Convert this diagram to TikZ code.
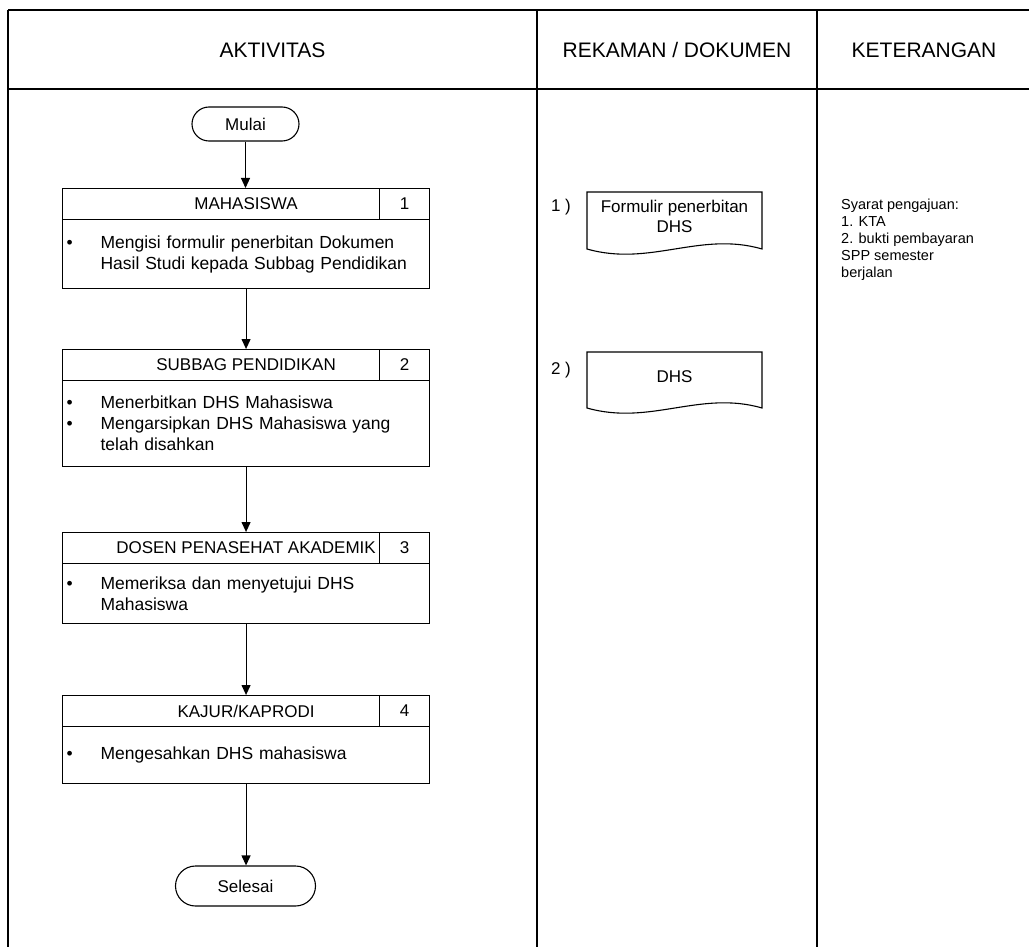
\documentclass[tikz,border=0pt]{standalone}
\usepackage{fontspec}
\setmainfont{Liberation Sans}
\usetikzlibrary{arrows.meta,shapes.misc}
\begin{document}
\begin{tikzpicture}[x=1pt,y=-1pt,
  tbl/.style={line width=1.4pt},
  term/.style={draw, line width=1.1pt, rounded rectangle, minimum width=107pt, minimum height=34pt, inner sep=0pt, font=\fontsize{17}{20}\selectfont},
  hdr/.style={draw, line width=1.1pt, minimum width=367pt, minimum height=31pt, inner sep=0pt, anchor=north west, font=\fontsize{17}{20}\selectfont},
  num/.style={draw, fill=white, line width=1.1pt, minimum width=50pt, minimum height=31pt, inner sep=0pt, anchor=north west, font=\fontsize{17}{20}\selectfont},
  body/.style={draw, line width=1.1pt, text width=359pt, inner xsep=4pt, inner ysep=0pt, anchor=north west, align=left, font=\fontsize{17.5}{21}\selectfont},
  arr/.style={line width=1.1pt, -{Triangle[width=9pt,length=10pt]}},
  colhead/.style={font=\fontsize{21}{25}\selectfont},
  doc/.style={line width=1.1pt},
  doctext/.style={font=\fontsize{17}{20}\selectfont, align=center, inner sep=0pt},
  note/.style={font=\fontsize{14.5}{17}\selectfont, align=left, anchor=north west, inner sep=0pt},
]
\newcommand{\bul}[1]{\makebox[34pt][l]{\textbullet}#1}
\newcommand{\cont}[1]{\hspace*{34pt}#1}
\useasboundingbox (0,0) rectangle (1029,947);
% table
\draw[tbl] (8,10) -- (1029,10);
\draw[tbl] (8,89) -- (1029,89);
\draw[tbl] (8,10) -- (8,947);
\draw[tbl] (537,10) -- (537,947);
\draw[tbl] (817,10) -- (817,947);
\node[colhead] (c1) at (272.5,50) {AKTIVITAS};
\node[colhead] (c2) at (677,50) {REKAMAN / DOKUMEN};
\node[colhead] (c3) at (924,50) {KETERANGAN};
% flow
\node[term] (mulai) at (245.5,124) {Mulai};
\node[hdr] (h1) at (62,188) {MAHASISWA};
\node[num] (n1) at (379,188) {1};
\node[body, minimum height=69pt] (b1) at (62,219) {\bul{Mengisi formulir penerbitan Dokumen}\\\cont{Hasil Studi kepada Subbag Pendidikan}};
\node[hdr] (h2) at (62,349) {SUBBAG PENDIDIKAN};
\node[num] (n2) at (379,349) {2};
\node[body, minimum height=86pt] (b2) at (62,380) {\bul{Menerbitkan DHS Mahasiswa}\\\bul{Mengarsipkan DHS Mahasiswa yang}\\\cont{telah disahkan}};
\node[hdr] (h3) at (62,532) {DOSEN PENASEHAT AKADEMIK};
\node[num] (n3) at (379,532) {3};
\node[body, minimum height=60pt] (b3) at (62,563) {\bul{Memeriksa dan menyetujui DHS}\\\cont{Mahasiswa}};
\node[hdr] (h4) at (62,695) {KAJUR/KAPRODI};
\node[num] (n4) at (379,695) {4};
\node[body, minimum height=57pt] (b4) at (62,726) {\bul{Mengesahkan DHS mahasiswa}};
\node[term, minimum width=140pt, minimum height=40pt] (selesai) at (245.5,886) {Selesai};
\draw[arr] (mulai.south) -- (mulai.south |- h1.north);
\draw[arr] (b1.south) -- (b1.south |- h2.north);
\draw[arr] (b2.south) -- (b2.south |- h3.north);
\draw[arr] (b3.south) -- (b3.south |- h4.north);
\draw[arr] (b4.south) -- (b4.south |- selesai.north);
% documents
\draw[doc] (587,192) -- (762,192) -- (762,249) .. controls (700,231) and (650,267) .. (587,249) -- cycle;
\node[doctext] (d1) at (674.5,216) {Formulir penerbitan\\DHS};
\node[doctext] (l1) at (561,207) {1 )};
\draw[doc] (587,352) -- (762,352) -- (762,408) .. controls (700,390) and (650,426) .. (587,408) -- cycle;
\node[doctext] (d2) at (674.5,377) {DHS};
\node[doctext] (l2) at (561,370) {2 )};
% notes
\node[note] (k1) at (841,199) {Syarat pengajuan:\\1. KTA\\2. bukti pembayaran\\SPP semester\\berjalan};
\end{tikzpicture}
\end{document}
